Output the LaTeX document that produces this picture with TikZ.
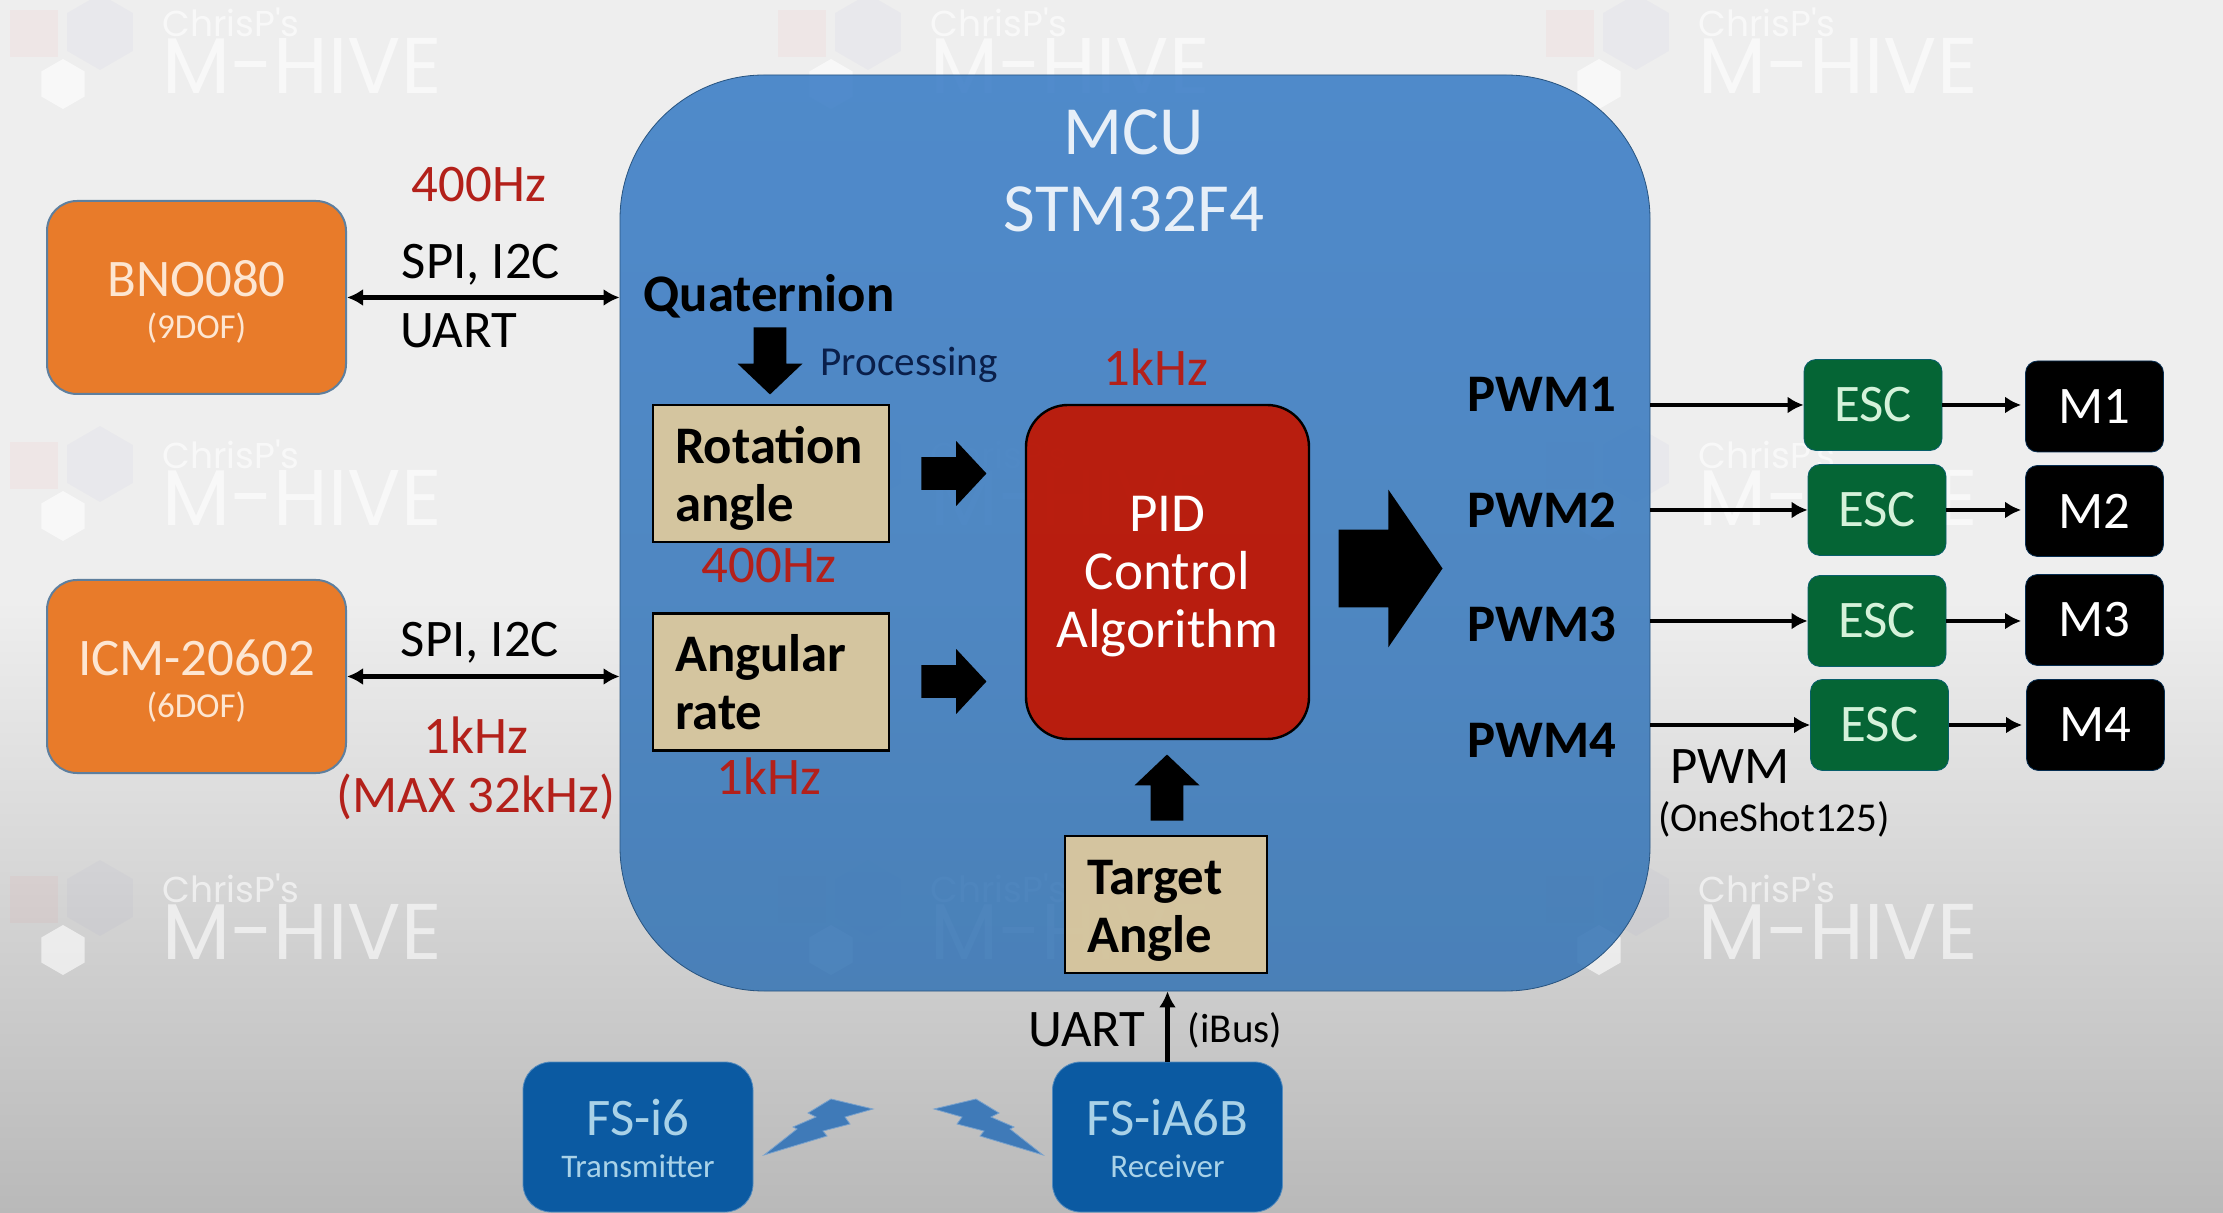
\documentclass[tikz,border=0pt]{standalone}
\usepackage{fontspec}
\setmainfont{Carlito}
\newfontfamily\wmfont{Poppins}
\newcommand{\subtxtfont}{\fontsize{17.5}{20}\selectfont}
\newcommand{\rctxtfont}{\fontsize{16.5}{20}\selectfont}
\usetikzlibrary{shapes,arrows.meta}
\definecolor{bgtop}{HTML}{EEEEEE}
\definecolor{bgbot}{HTML}{B9B9B9}
\definecolor{mcublue}{HTML}{3A7DC6}
\definecolor{mcublue2}{HTML}{3876B5}
\definecolor{sensor}{HTML}{E87B2A}
\definecolor{sensorline}{HTML}{5E7F9E}
\definecolor{sensortxt}{HTML}{FDE6D2}
\definecolor{pidred}{HTML}{C21500}
\definecolor{tan}{HTML}{DFCA9D}
\definecolor{escgreen}{HTML}{056535}
\definecolor{esctxt}{HTML}{D5F2DA}
\definecolor{rcblue}{HTML}{0B5AA2}
\definecolor{rctxt}{HTML}{A9D2E8}
\definecolor{boltblue}{HTML}{3F7AB8}
\definecolor{hzred}{HTML}{B3201A}
\definecolor{proctxt}{HTML}{0A1F4A}
\tikzset{
	bigtxt/.style={font=\fontsize{26.4}{29}\selectfont},
	boldtxt/.style={font=\fontsize{26.4}{29}\selectfont\bfseries},
	sensorbox/.style={draw=sensorline,line width=1pt,fill=sensor,text=sensortxt,rounded corners=15pt,minimum width=149.5pt,minimum height=96.5pt,align=center,bigtxt},
	rcbox/.style={draw=rcblue!70!white,thin,fill=rcblue,text=rctxt,rounded corners=14pt,minimum width=115pt,minimum height=75pt,align=center,bigtxt},
	tanbox/.style={draw=black,line width=1.2pt,fill=tan,fill opacity=.93,text opacity=1,minimum height=68.5pt,inner xsep=11pt,text width=#1,align=left,boldtxt},
	escbox/.style={draw=rcblue!50!escgreen,thin,fill=escgreen,text=esctxt,rounded corners=6pt,minimum width=69pt,minimum height=45.5pt,bigtxt},
	motorbox/.style={draw=rcblue!50!black,thin,fill=black,text=white,rounded corners=6pt,minimum width=69pt,minimum height=45.5pt,bigtxt},
	hztxt/.style={text=hzred,bigtxt},
	wmtxt/.style={white,opacity=.6,inner sep=0pt,text depth=0pt},
	blockarrow/.style={single arrow,fill=black,inner xsep=0pt,inner ysep=8pt,anchor=tip,single arrow head indent=0pt},
	conn/.style={line width=2.3pt,>={Latex[length=8pt,width=8.5pt]}},
	bolt/.style={draw=boltblue!70!white,thin,fill=boltblue},
}
\begin{document}
\begin{tikzpicture}[x=.5pt,y=-.5pt]
	\useasboundingbox (0,0) rectangle (2223,1213);
	\fill[bgtop] (0,0) rectangle (2223,600);
	\shade[top color=bgtop,bottom color=bgbot] (0,600) rectangle (2223,1213);
	% watermark
	\foreach \x in {0,768,1536} \foreach \y in {0,432,866} {
		\fill[red,opacity=.03] (\x+10,\y+10) rectangle (\x+58,\y+57);
		\node[regular polygon,regular polygon sides=6,shape border rotate=30,fill=blue!40!gray,opacity=.03,minimum size=38pt,inner sep=0pt] (hexb\x\y) at (\x+100,\y+32) {};
		\node[regular polygon,regular polygon sides=6,shape border rotate=30,fill=white,opacity=.6,minimum size=25pt,inner sep=0pt] (hexw\x\y) at (\x+63,\y+84) {};
		\node[wmtxt,font=\wmfont\fontsize{18}{20}\selectfont] (wma\x\y) at (\x+231,\y+22) {ChrisP's};
		\node[wmtxt,font=\wmfont\fontsize{39.5}{42}\selectfont] (wmb\x\y) at (\x+302,\y+66) {M-HIVE};
	}
	% MCU
	\node[draw=mcublue2!70!black,thin,top color=mcublue,bottom color=mcublue2,fill opacity=.88,rounded corners=72pt,minimum width=515pt,minimum height=458pt] (mcu) at (1135,533) {};
	\node[text=white!88!mcublue,align=center,font=\fontsize{34.5}{38.5}\selectfont] (mculabel) at (1134,171) {MCU\\STM32F4};
	% sensors
	\node[sensorbox] (bno) at (196.5,297.5) {\rule{0pt}{22.5pt}BNO080\\[-8pt]{\subtxtfont (9DOF)}};
	\node[sensorbox] (icm) at (196.5,676.5) {\rule{0pt}{22.5pt}ICM-20602\\[-8pt]{\subtxtfont (6DOF)}};
	\draw[conn,<->] (bno.east) -- (bno.east -| mcu.west);
	\draw[conn,<->] (icm.east) -- (icm.east -| mcu.west);
	\node[hztxt] (hzbno) at (479,185) {400Hz};
	\node[bigtxt] (spibno) at (481,265) {SPI, I2C};
	\node[bigtxt,anchor=west] (uartbno) at (393,331) {UART};
	\node[bigtxt] (spiicm) at (480,643) {SPI, I2C};
	\node[hztxt] (hzicm) at (476,735) {1kHz};
	\node[hztxt] (maxicm) at (476,797) {(MAX 32kHz)};
	% inside the MCU
	\node[boldtxt] (quat) at (769,296) {Quaternion};
	\node[blockarrow,rotate=-90,minimum width=32.5pt,minimum height=33.5pt,single arrow head extend=8pt,single arrow tip angle=93] (arrquat) at (770,395) {};
	\node[text=proctxt,font=\fontsize{20.6}{24}\selectfont] (proc) at (909,365) {Processing};
	\node[tanbox=96pt] (rot) at (771,473.5) {\rule{0pt}{23pt}Rotation\\angle};
	\node[tanbox=96pt] (ang) at (771,682) {Angular\\rate};
	\node[tanbox=79pt] (target) at (1166,904.5) {\rule{0pt}{23pt}Target\\Angle};
	\node[hztxt] (hzrot) at (769,566) {400Hz};
	\node[hztxt] (hzang) at (769,776) {1kHz};
	\node[hztxt] (hzpid) at (1156,367) {1kHz};
	\node[draw=black,line width=1.2pt,fill=pidred,fill opacity=.92,text opacity=1,text=white,rounded corners=21pt,minimum width=141.5pt,minimum height=167pt,align=center,text depth=0pt,font=\fontsize{27.5}{29}\selectfont] (pid) at (1167.5,572) {PID\\Control\\Algorithm};
	\node[blockarrow,minimum width=32pt,minimum height=32.5pt,single arrow head extend=8pt,single arrow tip angle=94] (arrrot) at (987,473.5) {};
	\node[blockarrow,minimum width=32pt,minimum height=32.5pt,single arrow head extend=8pt,single arrow tip angle=94] (arrang) at (987,681.5) {};
	\node[blockarrow,rotate=90,minimum width=32.5pt,minimum height=33pt,single arrow head extend=8pt,single arrow tip angle=93] (arrtarget) at (1167,754) {};
	\node[blockarrow,inner ysep=19.25pt,minimum width=78.75pt,minimum height=52pt,single arrow head extend=20pt,single arrow tip angle=111] (arrpid) at (1443,568.5) {};
	% PWM outputs
	\foreach \i/\y in {1/394,2/510,3/624,4/740} \node[boldtxt] (pwm\i) at (1542,\y) {PWM\i};
	\foreach \i/\xa/\ya/\xb/\yb in {1/1873/405/2094.5/406.5,2/1877/510/2094.5/511,3/1877/621/2094.5/620,4/1879.5/725/2095.5/725} {
		\node[escbox] (esc\i) at (\xa,\ya) {ESC};
		\node[motorbox] (m\i) at (\xb,\yb) {M\i};
		\draw[conn,->] (mcu.east |- esc\i.west) -- (esc\i.west);
		\draw[conn,->,shorten >=2pt] (esc\i.east) -- (esc\i.east -| m\i.west);
	}
	\node[bigtxt] (pwmlabel) at (1730,767) {PWM};
	\node[font=\fontsize{20.5}{24}\selectfont] (oneshot) at (1774,819) {(OneShot125)};
	% radio link
	\node[rcbox] (tx) at (638,1137) {\rule{0pt}{20pt}FS-i6\\[-8pt]{\rctxtfont Transmitter}};
	\node[rcbox] (rx) at (1167.5,1137) {\rule{0pt}{20pt}FS-iA6B\\[-8pt]{\rctxtfont Receiver}};
	\draw[conn,->] (rx.north) -- (rx.north |- mcu.south);
	\node[bigtxt] (uartrx) at (1087,1030) {UART};
	\node[font=\fontsize{20.5}{24}\selectfont] (ibus) at (1235,1030) {(iBus)};
	\foreach \s/\d in {1/0,-1/1807} \filldraw[bolt,shift={(\d,0)},xscale=\s] (764,1155) -- (797,1129) -- (793,1127) -- (816,1117) -- (808,1113) -- (831,1099) -- (873,1109) -- (845,1117) -- (850,1124) -- (823,1131) -- (827,1136) -- cycle;
\end{tikzpicture}
\end{document}
